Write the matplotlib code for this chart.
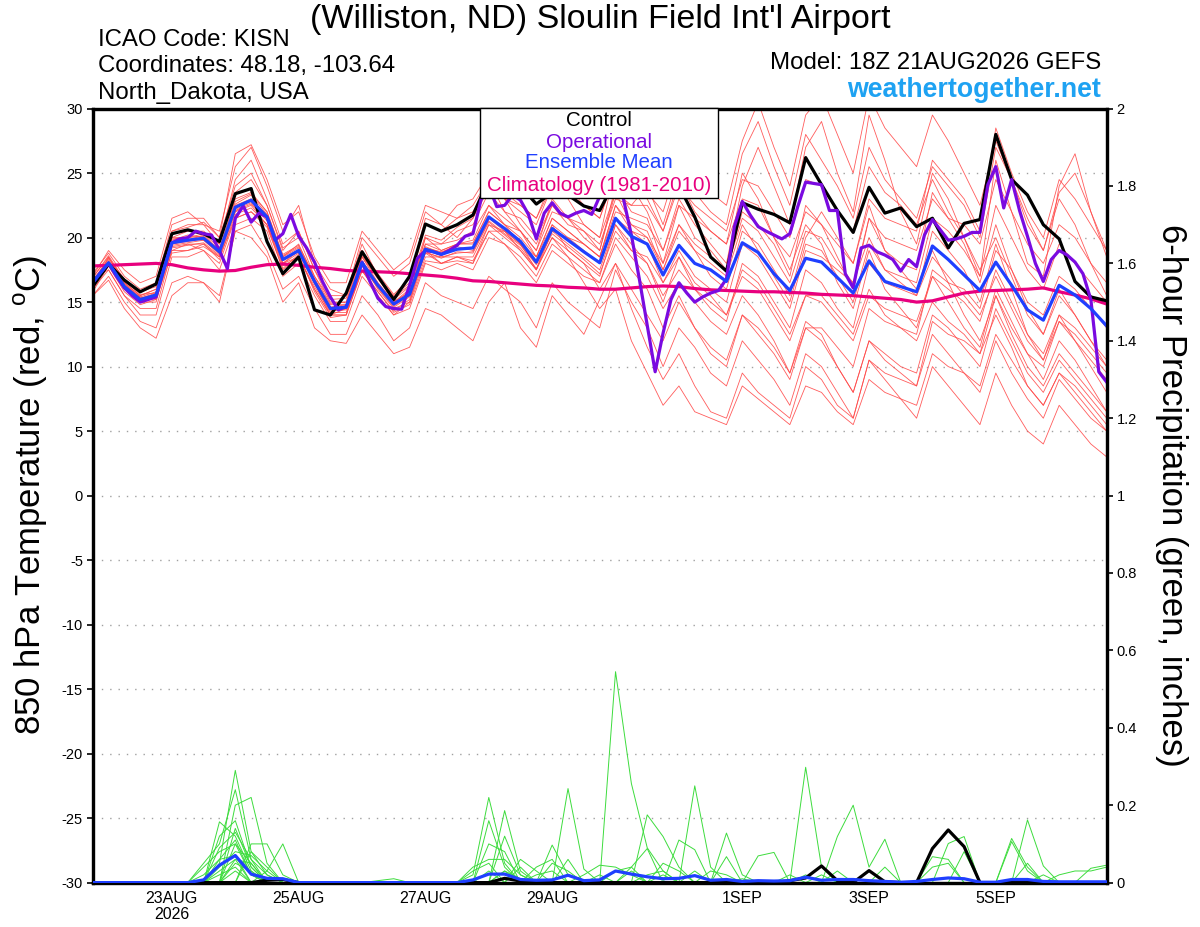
import numpy as np
import matplotlib
matplotlib.use("Agg")
import matplotlib.pyplot as plt
from matplotlib.patches import Rectangle

plt.rcParams['font.family'] = ['Liberation Sans', 'DejaVu Sans']

# ---------------- data ----------------
# forecast hours from 18Z 21AUG2026 (6-hourly for ensemble, 3-hourly for operational)
hours_6h = np.arange(65) * 6
hours_3h = np.arange(129) * 3

tick_hours = [30, 78, 126, 174, 246, 294, 342]
tick_labels = ["23AUG\n2026", "25AUG", "27AUG", "29AUG", "1SEP", "3SEP", "5SEP"]

temp_ticks = [-30, -25, -20, -15, -10, -5, 0, 5, 10, 15, 20, 25, 30]
precip_ticks = [0, 0.2, 0.4, 0.6, 0.8, 1.0, 1.2, 1.4, 1.6, 1.8, 2.0]
precip_tick_labels = ["0", "0.2", "0.4", "0.6", "0.8", "1", "1.2", "1.4", "1.6", "1.8", "2"]

control_t = [16.2, 17.95, 16.7, 15.8, 16.4, 20.3, 20.6, 20.3, 19.7, 23.4,
             23.8, 19.7, 17.2, 18.5, 14.4, 14.0, 15.7, 18.9, 17.0, 15.2,
             17.0, 21.05, 20.5, 21.0, 21.75, 24.5, 24.8, 24.0, 22.6, 23.5,
             23.3, 22.45, 22.1, 24.5, 25.0, 25.0, 24.5, 24.0, 21.6, 18.5,
             17.4, 22.7, 22.2, 21.8, 21.15, 26.2, 24.1, 22.1, 20.4, 23.9,
             21.9, 22.3, 20.85, 21.5, 19.2, 21.1, 21.4, 28.0, 24.5, 23.3,
             21.0, 19.9, 16.6, 15.4, 15.1]

mean_t = [16.5, 18.05, 16.2, 15.2, 15.55, 19.6, 19.8, 19.95, 18.9, 22.35,
          22.9, 21.6, 18.3, 19.0, 16.6, 14.5, 14.6, 18.05, 16.3, 14.85,
          15.6, 19.1, 18.7, 19.1, 19.2, 21.6, 20.7, 19.7, 18.1, 20.7,
          19.8, 18.9, 18.05, 21.5, 20.1, 19.5, 17.1, 19.4, 18.0, 17.5,
          16.6, 19.6, 18.85, 17.2, 15.9, 18.4, 18.1, 16.9, 15.7, 18.2,
          16.6, 16.2, 15.8, 19.35, 18.3, 17.1, 15.9, 18.1, 16.3, 14.4,
          13.6, 16.3, 15.55, 14.5, 13.15]

climatology_t = [17.8, 17.85, 17.9, 17.95, 18.0, 17.9, 17.65, 17.5, 17.4, 17.45,
                 17.7, 17.9, 17.95, 17.85, 17.7, 17.6, 17.45, 17.4, 17.35, 17.3,
                 17.2, 17.1, 17.0, 16.85, 16.65, 16.6, 16.5, 16.4, 16.3, 16.25,
                 16.15, 16.1, 16.0, 16.0, 16.1, 16.2, 16.25, 16.2, 16.05, 15.95,
                 15.9, 15.85, 15.8, 15.8, 15.75, 15.7, 15.6, 15.55, 15.5, 15.4,
                 15.3, 15.2, 15.0, 15.1, 15.4, 15.7, 15.85, 15.9, 15.95, 16.0,
                 16.1, 15.8, 15.55, 15.25, 14.85]

operational_t = [16.5, 17.3, 18.0, 17.0, 16.1, 15.5, 15.0, 15.2, 15.4, 17.6,
                 19.6, 19.9, 20.0, 20.5, 20.3, 20.2, 19.0, 17.6, 21.5, 22.45,
                 21.2, 21.9, 21.6, 19.8, 20.3, 21.8, 20.1, 19.2, 18.1, 16.6,
                 15.4, 14.4, 14.65, 16.2, 18.1, 16.6, 15.3, 14.65, 14.5, 14.45,
                 16.3, 18.4, 19.0, 18.9, 18.7, 19.0, 19.4, 20.1, 20.3, 22.9,
                 24.0, 22.4, 22.5, 23.3, 22.9, 21.8, 19.9, 21.9, 22.7, 21.9,
                 21.6, 21.9, 22.1, 21.8, 23.2, 24.0, 25.0, 23.0, 20.2, 16.8,
                 13.2, 9.6, 12.6, 15.2, 16.5, 15.7, 15.0, 15.4, 15.7, 15.9,
                 16.8, 20.85, 22.8, 21.75, 20.85, 20.5, 20.2, 19.9, 20.3, 22.4,
                 24.3, 24.2, 24.1, 22.1, 22.1, 17.2, 16.1, 19.2, 19.4, 18.9,
                 18.65, 18.3, 17.4, 18.3, 17.75, 20.2, 21.4, 20.6, 19.8, 19.9,
                 20.1, 20.4, 20.4, 24.1, 25.5, 22.3, 24.5, 22.1, 20.1, 18.0,
                 16.6, 18.3, 19.0, 18.65, 18.1, 17.2, 15.2, 9.6, 8.8]

# ensemble members, 850 hPa temperature (C)
mem01 = [17.0,19.0,17.5,16.5,17.0, 21.5,22.0,21.0,20.5,25.5, 27.0,24.0,20.5,22.5,18.0, 16.0,15.5,20.0,18.5,17.0, 18.0,22.0,21.0,22.5,23.0, 25.0,23.0,22.0,21.0,24.0, 23.0,21.0,20.0,25.5,24.0, 22.0,19.0,23.0,21.0,19.5, 18.0,24.0,27.0,24.0,21.0, 27.0,29.0,25.0,22.0,29.5, 26.0,22.0,19.5,25.0,23.0, 20.0,17.0,26.0,22.0,18.0, 17.0,24.0,26.5,22.0,19.0]
mem02 = [15.5,17.0,15.0,13.5,13.0, 16.5,17.0,16.5,15.0,20.5, 21.0,19.0,16.0,17.0,14.5, 12.5,12.5,15.5,14.0,12.0, 13.0,16.5,15.5,15.0,14.5, 17.0,16.0,15.0,13.0,16.5, 15.0,14.0,13.0,17.5,15.0, 13.0,10.0,13.0,11.5,9.5, 8.5,12.0,10.5,9.0,7.0, 11.0,10.0,8.0,6.0,10.5, 9.0,7.5,6.0,10.0,8.5, 7.0,5.5,9.5,7.0,5.0, 4.0,7.0,5.5,4.0,3.0]
mem03 = [16.0,18.5,16.5,15.5,16.0, 20.0,20.5,20.5,19.5,23.5, 24.5,22.5,19.0,20.5,17.5, 15.0,15.0,19.0,17.0,15.5, 16.5,21.0,20.5,21.5,22.5, 24.5,22.0,20.5,19.0,23.0, 21.5,20.0,19.0,24.0,22.0, 21.5,18.0,22.5,20.0,19.0, 17.5,22.0,21.0,19.5,17.0, 22.5,21.0,18.5,16.0,21.5, 19.0,18.0,17.5,23.5,21.5, 19.5,16.5,21.0,17.5,14.5, 12.5,16.0,14.0,12.0,10.0]
mem04 = [16.8,17.5,15.5,14.5,14.5, 19.0,19.5,19.0,17.5,21.0, 21.5,20.5,17.0,18.0,15.5, 13.5,13.5,17.0,15.5,14.0, 14.5,18.0,17.5,18.0,17.5, 20.0,19.5,18.0,16.5,19.0, 18.0,17.0,16.5,20.0,18.5, 17.0,14.5,16.5,15.0,13.5, 12.5,15.5,14.0,12.0,9.5, 13.5,12.5,10.0,8.0,12.0, 10.5,9.5,8.5,12.5,11.0, 9.5,8.0,12.0,9.5,7.5, 6.0,9.0,7.5,6.0,5.0]
mem05 = [16.2,18.2,16.0,15.0,15.0, 19.5,19.8,20.2,19.0,22.0, 22.5,21.0,18.0,19.0,16.5, 14.0,14.0,18.5,16.5,15.0, 16.0,20.0,19.5,20.5,21.0, 23.5,22.0,21.5,20.0,22.5, 21.0,20.5,19.5,23.0,22.5, 24.0,21.0,25.0,23.5,22.0, 21.0,26.5,29.0,25.5,22.5, 28.0,26.0,24.0,21.5,27.0, 24.5,23.0,21.5,25.5,24.0, 22.5,20.0,27.0,24.5,21.5, 19.0,23.0,21.0,18.0,15.5]
mem06 = [16.5,18.0,16.5,15.5,16.0, 20.5,21.0,21.0,19.5,24.5, 26.0,23.0,19.5,20.5,17.5, 15.5,15.5,19.5,17.0,15.0, 15.5,20.0,19.0,19.5,19.5, 22.0,21.0,19.5,17.5,21.0, 19.0,18.0,17.0,21.0,19.5, 18.0,15.0,18.5,16.0,14.5, 13.5,18.0,17.0,15.0,13.0, 17.5,16.5,14.5,13.0,18.0, 16.5,16.0,15.5,20.5,19.0, 17.5,15.0,19.5,16.0,12.5, 10.5,14.0,12.0,10.0,8.0]
mem07 = [16.0,17.5,15.5,14.0,14.0, 18.5,18.5,19.0,18.0,21.5, 22.0,21.0,17.5,18.5,16.0, 14.0,14.5,18.0,16.0,14.5, 15.0,18.5,18.5,18.5,18.5, 21.0,20.0,19.0,17.5,20.0, 19.0,18.0,16.0,18.0,14.5, 11.5,9.0,11.0,8.5,6.5, 6.0,9.5,8.0,7.0,6.0, 10.0,9.0,7.0,6.0,10.5, 9.5,9.0,8.5,13.5,12.5, 12.0,11.0,15.5,13.0,11.0, 10.0,13.5,12.0,10.5,9.0]
mem08 = [17.2,18.8,17.0,16.0,16.5, 21.0,21.5,21.5,20.0,26.5, 27.2,24.5,21.0,22.0,18.5, 16.5,16.5,20.5,19.0,17.5, 18.5,22.5,22.0,21.5,22.0, 24.0,23.5,22.5,21.5,24.5, 24.0,22.5,21.5,25.0,23.5, 23.0,20.5,24.5,22.0,20.5, 19.5,25.0,23.0,20.0,17.5, 21.0,19.5,16.5,14.5,19.0, 16.0,14.5,13.0,17.0,15.0, 13.0,11.5,16.0,13.5,11.0, 9.0,12.0,10.5,8.5,6.5]
mem09 = [15.8,17.8,16.0,15.0,15.5, 19.0,19.0,19.5,18.5,22.0, 23.0,21.5,18.0,18.5,16.0, 14.0,14.0,17.5,15.5,14.0, 15.0,19.0,18.0,18.5,18.0, 21.0,20.5,19.5,18.5,21.5, 20.5,19.5,18.5,22.5,21.0, 20.0,17.5,20.5,19.0,18.0, 17.0,21.0,19.0,17.0,15.0, 19.5,19.0,17.0,15.0,19.5, 17.5,17.0,16.5,21.5,20.5, 19.0,17.0,22.5,20.0,17.5, 16.0,19.5,18.0,16.5,15.0]
mem10 = [15.5,16.7,14.5,13.0,12.2, 15.5,16.5,16.5,15.5,20.5, 20.0,18.5,15.0,16.5,13.0, 12.0,11.8,14.0,12.5,11.0, 11.5,14.5,14.0,13.0,12.0, 15.0,16.5,13.0,11.5,15.5, 14.0,12.5,15.2,18.0,16.0, 14.0,12.0,15.0,13.0,11.0, 10.0,14.0,13.0,11.5,9.5, 13.0,12.0,10.0,8.0,12.0, 11.0,10.0,9.5,14.0,13.0, 11.5,10.0,14.5,12.0,9.5, 8.0,10.5,9.0,7.5,6.0]
mem11 = [16.6,18.4,16.8,15.8,16.2, 20.5,20.8,21.2,20.0,24.0, 25.0,22.5,19.2,20.0,17.0, 15.2,15.3,19.0,17.2,15.6, 16.8,21.5,21.0,20.0,21.5, 24.5,23.0,21.0,19.5,22.5, 21.5,20.5,19.0,23.5,21.0, 20.5,17.5,21.0,19.0,17.0, 16.0,20.5,19.5,17.5,15.5, 20.0,22.0,20.0,18.0,23.0, 21.5,21.0,20.5,26.0,24.5, 23.0,20.5,28.5,25.0,22.0, 20.0,24.5,23.0,21.0,19.0]
mem12 = [16.4,17.9,16.3,15.4,15.8, 19.8,20.2,20.0,19.0,23.0, 23.5,22.0,18.5,19.5,16.8, 14.8,14.8,18.5,16.8,15.2, 16.2,19.5,19.5,19.8,20.5, 22.5,21.5,20.5,18.5,21.5, 20.5,19.5,18.5,22.0,21.5, 21.0,19.0,22.5,21.5,20.5, 19.5,23.0,22.5,20.0,18.5, 22.0,21.0,19.5,18.0,22.5, 19.0,17.5,16.0,19.0,16.5, 14.0,12.0,15.5,12.5,10.0, 8.5,11.0,9.5,8.0,6.5]
mem13 = [16.9,18.6,16.7,15.6,15.7, 19.2,19.4,19.6,18.6,22.6, 23.3,21.8,18.6,19.3,16.8, 14.6,14.8,18.2,16.5,15.0, 15.8,19.3,18.8,19.5,19.8, 22.5,21.0,20.5,19.0,22.0, 21.5,21.0,20.0,23.5,22.5, 22.5,20.5,24.0,22.5,21.5, 20.5,24.5,24.0,22.0,20.0, 24.5,24.0,22.0,20.5,25.5, 23.5,22.5,21.0,24.5,22.0, 20.0,17.5,20.0,17.0,14.0, 12.5,15.5,14.0,12.0,10.5]
mem14 = [16.3,17.8,15.8,14.8,15.2, 19.3,19.5,19.5,18.3,21.8, 22.3,21.0,17.8,18.5,16.2, 14.2,14.2,17.5,15.8,14.3, 15.2,18.8,18.0,18.2,18.0, 20.5,19.5,18.5,17.0,19.5, 18.5,17.5,16.5,19.5,17.5, 16.0,13.0,15.5,13.0,11.5, 10.5,14.0,12.5,11.0,9.0, 13.0,13.0,11.5,10.0,14.5, 13.5,13.0,12.5,17.5,16.5, 16.0,14.5,19.0,17.5,15.0, 14.0,17.0,16.0,14.5,13.0]
mem15 = [16.1,18.1,16.1,15.1,15.3, 19.4,19.6,19.8,18.7,22.1, 22.6,21.3,18.0,18.8,16.4, 14.3,14.4,17.8,16.1,14.6, 15.4,18.9,18.4,18.9,18.8, 21.2,20.2,19.2,17.6,20.0, 18.5,16.5,14.5,16.0,12.0, 9.5,7.0,8.5,6.5,6.0, 5.5,8.5,7.5,6.5,5.5, 8.5,8.0,6.5,5.5,9.0, 8.0,7.5,7.0,11.0,10.0, 9.5,8.5,12.5,10.5,8.5, 7.0,9.5,8.0,6.5,5.0]
mem16 = [16.7,18.3,16.4,15.3,15.6, 19.9,20.0,20.3,19.2,22.8, 23.4,22.0,18.7,19.4,17.0, 14.9,15.0,18.6,16.9,15.4, 16.3,20.2,19.8,20.8,21.5, 23.8,23.0,22.5,21.5,24.0, 23.5,22.5,21.5,25.0,24.0, 23.5,22.0,26.0,24.5,23.5, 22.5,27.5,30.5,27.0,24.0, 29.5,31.0,28.0,25.0,31.0, 28.5,27.0,25.5,29.5,27.5, 25.0,22.5,27.5,24.5,21.0, 19.0,23.5,25.0,22.0,18.5]
mem17 = [16.6,18.0,16.2,15.0,15.4, 19.7,19.9,19.8,18.8,22.4, 22.8,21.5,18.3,19.0,16.6, 14.5,14.6,18.1,16.3,14.8, 15.6,19.2,18.9,19.3,19.0, 21.5,20.5,19.5,18.0,20.5, 19.5,18.5,17.5,21.0,19.0, 18.5,16.5,19.0,17.0,16.0, 15.0,19.5,18.5,16.5,14.5, 19.0,18.5,17.5,16.5,21.5, 20.0,19.5,19.0,23.0,21.5, 21.0,19.5,24.5,22.0,19.5, 18.0,21.0,20.0,18.0,16.5]
mem18 = [16.9,18.5,16.4,15.4,15.2, 18.8,19.0,19.3,18.5,21.5, 22.0,20.8,17.6,18.7,15.8, 13.8,14.0,17.4,15.8,14.2, 14.8,18.2,18.0,18.5,18.2, 20.5,20.5,19.0,17.5,20.5, 20.0,19.5,18.5,22.5,20.5, 19.5,16.5,18.5,16.5,15.5, 14.0,17.0,16.0,14.0,12.0, 15.5,15.5,14.0,12.5,16.0, 14.0,13.0,12.0,15.0,13.5, 12.5,11.0,14.0,11.5,8.5, 7.0,9.5,8.5,7.0,5.5]
mem19 = [16.3,18.1,16.2,15.3,15.7, 20.0,20.0,20.1,19.0,22.5, 23.0,21.7,18.5,19.2,16.7, 14.6,14.7,18.2,16.4,15.0, 15.8,19.5,19.0,19.5,19.6, 22.0,21.0,20.0,18.5,21.0, 20.0,19.0,18.0,21.5,20.5, 20.0,18.0,21.0,19.5,18.5, 17.5,21.5,20.5,18.5,16.5, 20.5,20.0,18.0,16.5,20.0, 17.5,16.5,15.5,18.5,17.0, 15.5,14.0,17.0,14.5,12.0, 10.5,13.5,12.5,11.0,9.5]
mem20 = [16.6,18.1,16.1,15.1,15.4, 19.5,19.7,19.9,18.8,22.2, 22.7,21.4,18.2,18.9,16.5, 14.4,14.5,17.9,16.2,14.7, 15.5,18.8,18.5,18.8,18.9, 21.3,20.3,19.4,17.9,20.3, 19.3,18.3,17.2,20.5,19.0, 18.0,15.5,17.5,16.0,15.0, 14.0,17.5,16.5,14.5,12.5, 15.5,15.0,13.5,12.0,15.5, 14.5,14.0,13.5,17.0,16.0, 15.0,13.5,17.5,15.0,12.5, 11.0,14.0,13.0,11.5,10.0]
members_t = [mem01, mem02, mem03, mem04, mem05, mem06, mem07, mem08, mem09, mem10,
             mem11, mem12, mem13, mem14, mem15, mem16, mem17, mem18, mem19, mem20]

# 6-hour precipitation (inches)
control_p = [0,0,0,0,0, 0,0,0,0,0, 0,.006,.008,0,0, 0,0,0,0,0, 0,0,0,0,0, 0,.011,.004,0,0, 0,0,0,0,0, 0,0,0,0,0, 0,0,0,0,.005, .012,.043,.005,0,.031, .002,0,0,.088,.136, .093,0,0,0,0, 0,0,0,0,0]
mean_p = [0,0,0,0,0, 0,0,.007,.045,.07, .022,.011,.01,0,0, 0,0,0,0,0, 0,0,0,0,.007, .022,.022,.008,.006,.007, .019,.005,.007,.03,.022, .015,.01,.011,.018,.006, .008,.003,.005,.004,.005, .014,.006,.008,.008,.005, .003,.001,.003,.008,.012, .01,.001,.001,.008,.008, .003,.002,.002,.002,.002]

pm01 = [0,0,0,0,0, 0,0,0,.05,.29, .08,.02,0,0,0, 0,0,0,0,0, 0,0,0,0,.02, .22,.05,0,0,0, 0,0,0,.545,.256, .09,.03,0,0,0, 0,0,0,0,0, .02,0,0,0,0, 0,0,0,0,0, 0,0,0,0,0, 0,0,0,0,0]
pm02 = [0,0,0,0,0, 0,0,0,.157,.12, .03,0,0,0,0, 0,0,0,0,0, 0,0,0,0,0, 0,.186,.03,0,0, 0,0,0,0,0, 0,0,0,.25,.04, 0,0,0,0,0, 0,0,0,0,0, 0,0,0,0,0, 0,0,0,.114,.04, 0,0,0,0,0]
pm03 = [0,0,0,0,0, 0,0,.05,.1,.24, .06,0,0,0,0, 0,0,0,0,0, 0,0,0,0,0, 0,0,0,0,.097, .02,0,0,0,0, .175,.119,.04,0,0, 0,0,0,0,0, 0,0,0,0,0, 0,0,0,0,0, 0,0,0,0,.162, .043,0,0,0,0]
pm04 = [0,0,0,0,0, 0,0,0,0,.2, .22,.05,0,0,0, 0,0,0,0,0, 0,0,0,0,0, .16,.04,0,0,0, 0,0,0,0,0, 0,0,0,0,0, .128,.02,0,0,0, 0,0,.119,.2,.04, .112,0,0,0,0, 0,0,0,0,0, 0,0,0,0,0]
pm05 = [0,0,0,0,0, 0,0,0,.12,.16, .04,0,0,0,0, 0,0,0,0,0, 0,0,0,0,0, 0,0,0,0,0, .243,.035,0,0,0, 0,0,0,0,0, 0,0,0,0,0, .298,.04,0,0,0, 0,0,0,0,.101, .119,0,0,0,0, 0,0,0,0,0]
pm06 = [0,0,0,0,0, 0,0,0,0,0, .1,.1,.02,0,0, 0,0,0,0,0, 0,0,0,0,0, 0,0,.06,.03,0, 0,0,0,0,.04, .088,0,0,0,0, 0,0,0,0,0, 0,0,0,0,0, 0,0,0,.067,.06, 0,0,0,0,0, 0,0,0,0,0]
pm07 = [0,0,0,0,0, 0,0,0,0,0, 0,.03,.1,0,0, 0,0,0,0,0, 0,0,0,0,0, .1,.08,0,0,0, 0,0,0,0,0, 0,0,.11,.085,0, 0,0,0,0,0, 0,0,0,0,0, 0,0,0,0,0, 0,0,0,0,0, 0,0,0,.037,.045]
pm08 = [0,0,0,0,0, 0,0,.04,.08,.1, .05,0,0,0,0, 0,0,0,0,0, 0,0,0,0,.04, .06,.06,.02,0,0, 0,0,0,0,0, 0,0,0,0,0, 0,0,.069,.078,0, 0,0,0,0,0, 0,0,0,0,0, 0,0,0,.106,.03, 0,0,0,0,0]
pm09 = [0,0,0,0,0, 0,0,0,.03,.06, .05,0,0,0,0, 0,0,0,0,0, 0,0,0,0,0, 0,.12,.02,0,0, 0,0,0,.03,.04, 0,0,0,0,0, .067,0,0,0,0, 0,0,0,0,0, 0,0,0,0,0, .08,0,0,0,0, 0,0,0,0,0]
pm10 = [0,0,0,0,0, 0,0,0,0,.14, .04,0,0,0,0, 0,0,0,0,0, 0,0,0,0,0, 0,0,0,.04,.06, 0,0,0,0,0, 0,.05,.03,0,0, 0,0,0,0,0, 0,0,.03,0,0, 0,0,0,0,0, 0,0,0,0,0, .02,0,0,0,0]
pm11 = [0,0,0,0,0, 0,0,.02,.06,.11, .02,0,0,0,0, 0,0,0,0,0, 0,0,0,0,0, 0,0,0,0,0, 0,.02,.045,.04,.02, 0,0,0,0,0, 0,0,0,0,0, 0,0,0,0,0, .04,0,0,0,0, 0,0,0,0,0, 0,0,0,0,0]
pm12 = [0,0,0,0,0, 0,0,0,.09,.13, .06,.02,0,0,0, 0,0,0,0,0, 0,0,0,0,.03, .05,0,0,0,0, 0,0,0,0,0, 0,0,0,.03,0, 0,0,0,0,0, 0,0,0,0,0, 0,0,0,0,0, 0,0,0,0,0, 0,0,0,0,0]
pm13 = [0,0,0,0,0, 0,0,0,0,.05, .03,0,0,0,0, 0,0,0,0,0, 0,0,0,0,0, 0,.03,0,0,0, 0,0,0,0,0, .02,.03,0,0,0, 0,0,0,0,0, 0,0,0,0,0, 0,0,0,.04,.05, 0,0,0,0,0, 0,0,0,0,0]
pm14 = [0,0,0,0,0, 0,0,0,.04,.08, .07,.03,0,0,0, 0,0,0,0,0, 0,0,0,0,0, 0,0,0,0,.05, .03,0,0,0,0, 0,0,0,0,0, 0,0,0,0,.02, 0,0,0,0,0, 0,0,0,0,0, 0,0,0,0,.05, 0,0,0,0,0]
pm15 = [0,0,0,0,0, 0,0,0,0,.03, 0,0,0,0,0, 0,0,0,0,0, 0,0,0,0,0, 0,0,.04,0,0, 0,0,0,0,0, 0,0,0,0,.03, .02,0,0,0,0, 0,0,0,0,0, 0,0,0,0,0, 0,0,0,0,0, 0,0,0,0,0]
pm16 = [0,0,0,0,0, 0,0,0,.06,.07, 0,0,0,0,0, 0,0,0,0,0, 0,0,0,0,0, 0,0,0,0,0, .06,0,0,0,.03, 0,0,0,0,0, 0,0,0,0,0, 0,0,0,0,0, 0,0,0,0,0, 0,0,0,0,0, 0,.02,.03,.03,.04]
pm17 = [0,0,0,0,0, 0,0,0,0,0, .08,.04,0,0,0, 0,0,0,0,0, 0,0,0,0,0, .03,0,0,0,0, 0,0,0,0,0, 0,0,0,0,0, 0,0,0,0,0, 0,.02,0,0,0, 0,0,0,0,0, 0,0,0,0,0, 0,0,0,0,0]
pm18 = [0,0,0,0,0, 0,0,0,0,.1, .02,0,0,0,0, 0,0,0,0,0, 0,0,0,0,0, 0,0,0,.02,.03, 0,0,0,0,0, 0,.02,0,0,0, 0,0,0,0,0, 0,0,0,0,0, 0,0,0,0,0, 0,0,0,0,0, 0,0,0,0,0]
pm19 = [0,0,0,0,0, 0,0,0,.02,.04, 0,0,0,0,0, 0,0,0,0,0, 0,0,0,0,0, 0,.03,.01,0,0, 0,0,0,0,0, 0,0,0,0,0, 0,.01,0,0,0, 0,0,0,0,0, 0,0,0,0,0, 0,0,0,0,0, 0,0,0,0,0]
pm20 = [0,0,0,0,0, 0,0,0,0,.06, 0,0,0,0,0, 0,0,0,.005,.01, 0,0,0,0,0, 0,0,0,0,0, 0,0,.02,0,0, 0,0,0,0,0, 0,0,0,0,0, 0,0,0,0,0, 0,0,0,0,0, 0,0,0,0,0, 0,0,0,0,0]
members_p = [pm01, pm02, pm03, pm04, pm05, pm06, pm07, pm08, pm09, pm10,
             pm11, pm12, pm13, pm14, pm15, pm16, pm17, pm18, pm19, pm20]

# ---------------- styles ----------------
C_CTRL = "#000000"
C_OPER = "#7a0ae0"
C_MEAN = "#1f3fff"
C_CLIM = "#e8007e"
C_RED = "#ff4a4a"
C_GREEN = "#3ddc3d"

fig = plt.figure(figsize=(12, 9.27), dpi=100)
ax = fig.add_axes([0.07725, 0.0479, 0.845, 0.83495])
ax2 = ax.twinx()

for m in members_t:
    ax.plot(hours_6h[:len(m)], m, color=C_RED, lw=0.6, alpha=0.9, zorder=2)
ax.plot(hours_6h, climatology_t, color=C_CLIM, lw=2.3, zorder=3)
ax.plot(hours_6h, control_t, color=C_CTRL, lw=2.3, zorder=4)
ax.plot(hours_3h, operational_t, color=C_OPER, lw=2.3, zorder=5)
ax.plot(hours_6h, mean_t, color=C_MEAN, lw=2.3, zorder=6)

for p in members_p:
    ax2.plot(hours_6h[:len(p)], p, color=C_GREEN, lw=0.7, zorder=2)
ax2.plot(hours_6h, control_p, color=C_CTRL, lw=2.3, zorder=4)
ax2.plot(hours_6h, mean_p, color=C_MEAN, lw=2.3, zorder=5)

ax.set_xlim(0, 384)
ax.set_ylim(-30, 30)
ax2.set_ylim(0, 2)

ax.set_yticks(temp_ticks)
ax.set_yticklabels([str(t) for t in temp_ticks])
ax2.set_yticks(precip_ticks)
ax2.set_yticklabels(precip_tick_labels)
ax.set_xticks(tick_hours)
ax.set_xticklabels(tick_labels, linespacing=1.1)

for v in temp_ticks[1:-1]:
    ax.axhline(v, color="#a0a0a0", lw=1.0, ls=(0, (1, 5)), zorder=1)

ax.tick_params(axis="y", direction="out", length=4, width=1.2, labelsize=10.5, pad=3)
ax2.tick_params(axis="y", direction="out", length=4, width=1.2, labelsize=10.5, pad=3)
ax.tick_params(axis="x", length=0, labelsize=11.5, pad=6)
for a in (ax, ax2):
    for s in a.spines.values():
        s.set_linewidth(2.3)

# headers
fig.text(0.5, 0.9795, "(Williston, ND) Sloulin Field Int'l Airport", ha="center", va="center", fontsize=24.5)
fig.text(0.0817, 0.9569, "ICAO Code: KISN", ha="left", va="center", fontsize=17.3)
fig.text(0.0817, 0.9288, "Coordinates: 48.18, -103.64", ha="left", va="center", fontsize=17.3)
fig.text(0.0817, 0.8997, "North_Dakota, USA", ha="left", va="center", fontsize=17.3)
fig.text(0.9175, 0.932, "Model: 18Z 21AUG2026 GEFS", ha="right", va="center", fontsize=17.3)
fig.text(0.9175, 0.903, "weathertogether.net", ha="right", va="center", fontsize=19.3,
         fontweight="bold", color="#1ea2f2")

# axis titles
fig.text(0.026, 0.466, "850 hPa Temperature (red, $^\\mathregular{o}$C)", rotation=90,
         ha="center", va="center", fontsize=25)
fig.text(0.976, 0.466, "6-hour Precipitation (green, inches)", rotation=270,
         ha="center", va="center", fontsize=25)

# legend box
rect = Rectangle((0.4, 0.7864), 0.1983, 0.0971, transform=fig.transFigure,
                 facecolor="white", edgecolor="black", lw=1.0, zorder=10)
fig.patches.append(rect)
leg_items = [("Control", C_CTRL, 0.8695), ("Operational", C_OPER, 0.8468),
             ("Ensemble Mean", C_MEAN, 0.8242), ("Climatology (1981-2010)", C_CLIM, 0.8004)]
for txt, col, yy in leg_items:
    fig.text(0.4992, yy, txt, color=col, ha="center", va="center", fontsize=14.8, zorder=11)

fig.savefig("out.png", dpi=100)
